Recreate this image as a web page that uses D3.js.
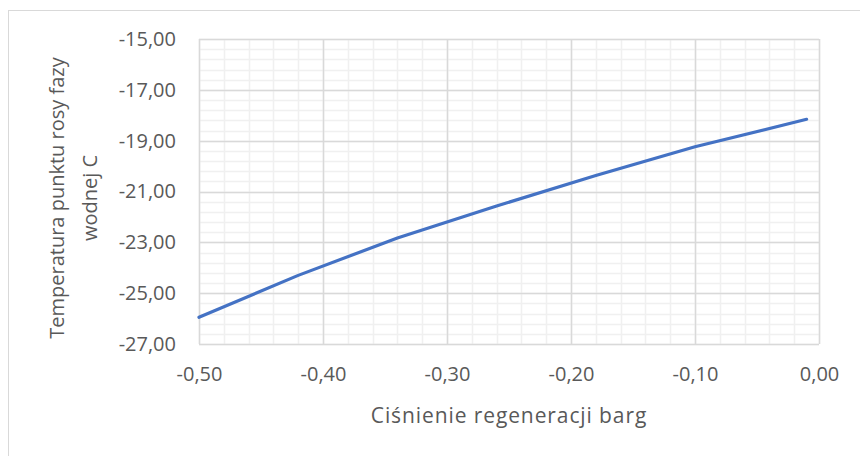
<!DOCTYPE html>
<html>
<head>
<meta charset="utf-8">
<script src="https://cdn.jsdelivr.net/npm/d3@7"></script>
<style>
  html, body { margin: 0; padding: 0; background: #fff; }
  svg { display: block; }
  text { font-family: "Open Sans", "Noto Sans", sans-serif; fill: #595959; }
</style>
</head>
<body>
<svg id="chart" width="860" height="456"></svg>
<script>
// Dew point temperature of the water phase vs regeneration pressure
const pressure = [-0.50, -0.42, -0.34, -0.26, -0.18, -0.10, -0.01];
const dewPoint = [-25.95, -24.30, -22.83, -21.57, -20.37, -19.24, -18.16];

const xTicks = [-0.5, -0.4, -0.3, -0.2, -0.1, 0.0];
const yTicks = [-27, -25, -23, -21, -19, -17, -15];
const xTitle = "Ciśnienie regeneracji barg";
const yTitleLines = ["Temperatura punktu rosy fazy", "wodnej C"];

const fmt = v => d3.format(".2f")(v).replace(".", ",").replace("−", "-");

const svg = d3.select("#chart");
const W = 860, H = 456;
const plot = { left: 199, top: 39, right: 819, bottom: 344 };

// chart frame
svg.append("rect")
  .attr("x", 8.5).attr("y", 10.5)
  .attr("width", W).attr("height", H)
  .attr("fill", "#fff").attr("stroke", "#d9d9d9").attr("stroke-width", 1);

const x = d3.scaleLinear().domain([-0.5, 0]).range([plot.left, plot.right]);
const y = d3.scaleLinear().domain([-27, -15]).range([plot.bottom, plot.top]);

// minor grid
const xMinor = d3.range(-0.5, 0.0001, 0.02).map(v => +v.toFixed(2));
const yMinor = d3.range(-27, -14.99, 0.4).map(v => +v.toFixed(1));
const g = svg.append("g");
g.selectAll("line.xm").data(xMinor).join("line")
  .attr("x1", d => Math.round(x(d)) + 0.5).attr("x2", d => Math.round(x(d)) + 0.5)
  .attr("y1", plot.top).attr("y2", plot.bottom)
  .attr("stroke", "#f0f0f0").attr("stroke-width", 1.5);
g.selectAll("line.ym").data(yMinor).join("line")
  .attr("y1", d => Math.round(y(d)) + 0.5).attr("y2", d => Math.round(y(d)) + 0.5)
  .attr("x1", plot.left).attr("x2", plot.right)
  .attr("stroke", "#f0f0f0").attr("stroke-width", 1.5);

// major grid
g.selectAll("line.xM").data(xTicks).join("line")
  .attr("x1", d => Math.round(x(d)) + 0.5).attr("x2", d => Math.round(x(d)) + 0.5)
  .attr("y1", plot.top).attr("y2", plot.bottom)
  .attr("stroke", "#d9d9d9").attr("stroke-width", 1.5);
g.selectAll("line.yM").data(yTicks).join("line")
  .attr("y1", d => Math.round(y(d)) + 0.5).attr("y2", d => Math.round(y(d)) + 0.5)
  .attr("x1", plot.left).attr("x2", plot.right)
  .attr("stroke", "#d9d9d9").attr("stroke-width", 1.5);

// axes labels
const xAxis = d3.axisBottom(x).tickValues(xTicks).tickFormat(fmt).tickSize(0).tickPadding(23);
const yAxis = d3.axisLeft(y).tickValues(yTicks).tickFormat(fmt).tickSize(0).tickPadding(23);
const gx = svg.append("g").attr("transform", `translate(0,${plot.bottom})`).call(xAxis);
const gy = svg.append("g").attr("transform", `translate(${plot.left},0)`).call(yAxis);
[gx, gy].forEach(a => {
  a.select(".domain").remove();
  a.selectAll("text").attr("font-size", 20).attr("fill", "#595959")
    .style("font-family", '"Open Sans", sans-serif');
});

// series line
svg.append("path")
  .datum(pressure.map((p, i) => [p, dewPoint[i]]))
  .attr("fill", "none").attr("stroke", "#4472c4").attr("stroke-width", 3.2)
  .attr("stroke-linejoin", "round").attr("stroke-linecap", "round")
  .attr("d", d3.line().x(d => x(d[0])).y(d => y(d[1])));

// axis titles
svg.append("text")
  .attr("x", (plot.left + plot.right) / 2).attr("y", 423)
  .attr("text-anchor", "middle").attr("font-size", 21)
  .attr("letter-spacing", 0.9)
  .text(xTitle);

const yt = svg.append("text")
  .attr("transform", `translate(64,198) rotate(-90)`)
  .attr("text-anchor", "middle").attr("font-size", 20);
yTitleLines.forEach((t, i) => {
  yt.append("tspan").attr("x", 0).attr("dy", i === 0 ? 0 : 33).text(t);
});
</script>
</body>
</html>
